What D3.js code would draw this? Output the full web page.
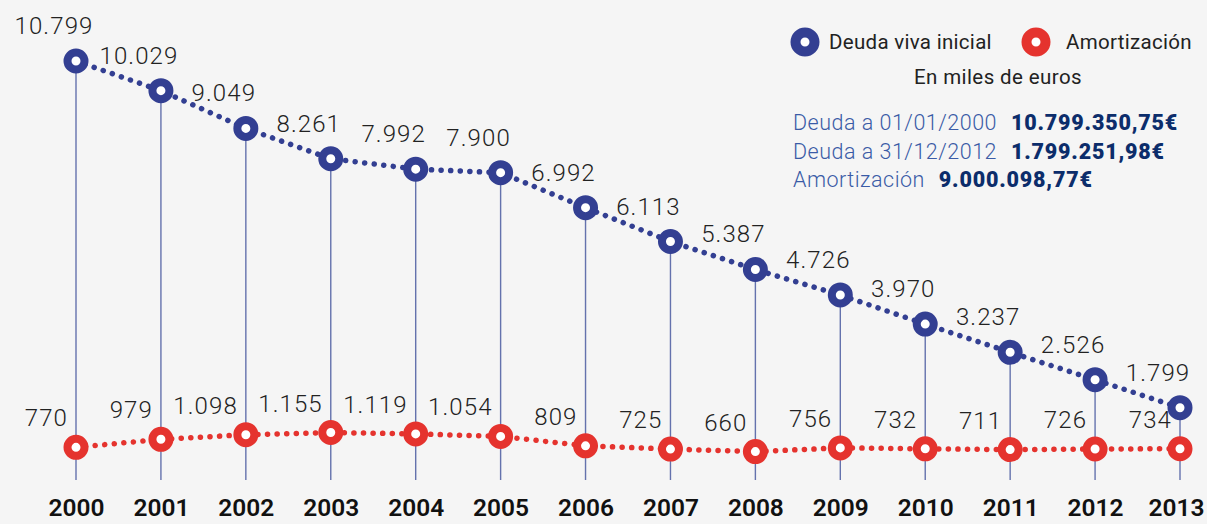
<!DOCTYPE html>
<html>
<head>
<meta charset="utf-8">
<script src="https://cdn.jsdelivr.net/npm/d3@7"></script>
<style>
  html, body { margin: 0; padding: 0; background: #f5f5f5; }
  svg { display: block; font-family: Roboto, "Noto Sans", sans-serif; }
</style>
</head>
<body>
<div id="chart"></div>
<script>
// data, in miles de euros
const years = [2000, 2001, 2002, 2003, 2004, 2005, 2006, 2007, 2008, 2009, 2010, 2011, 2012, 2013];
const deudaViva = [10799, 10029, 9049, 8261, 7992, 7900, 6992, 6113, 5387, 4726, 3970, 3237, 2526, 1799];
const amortizacion = [770, 979, 1098, 1155, 1119, 1054, 809, 725, 660, 756, 732, 711, 726, 734];
const seriesNames = ["Deuda viva inicial", "Amortización"];
const summaryLabels = ["Deuda a 01/01/2000", "Deuda a 31/12/2012", "Amortización"];
const summaryValues = ["10.799.350,75€", "1.799.251,98€", "9.000.098,77€"];

const blue = "#333f92";
const red = "#e5332e";

const width = 1207, height = 524;

const es = d3.formatLocale({decimal: ",", thousands: ".", grouping: [3], currency: ["", "€"]});
const fmt = es.format(",d");

const x = d3.scalePoint().domain(years).range([76, 1180]);
const y = d3.scaleLinear().domain([0, 10799]).range([477, 61]);
const stemBottom = 480;

const svg = d3.select("#chart").append("svg")
    .attr("width", width)
    .attr("height", height);

svg.append("rect").attr("width", width).attr("height", height).attr("fill", "#f5f5f5");

// year axis
svg.append("g")
    .attr("transform", `translate(0,${stemBottom})`)
    .call(d3.axisBottom(x).tickSize(0).tickPadding(19))
    .call(g => g.select(".domain").remove())
    .call(g => g.selectAll("text")
        .attr("fill", "#111")
        .style("font-family", "Roboto, sans-serif")
        .style("font-size", "24.5px")
        .style("font-weight", "600"))
    // keep the last year inside the frame
    .call(g => g.selectAll(".tick:last-of-type text")
        .attr("text-anchor", "end")
        .attr("x", width - 3 - x(years[years.length - 1])));

// stems
svg.append("g").selectAll("line")
    .data(years)
    .join("line")
    .attr("x1", d => x(d)).attr("x2", d => x(d))
    .attr("y1", (d, i) => y(deudaViva[i]))
    .attr("y2", stemBottom)
    .attr("stroke", "#4a5aa0")
    .attr("stroke-opacity", 0.85)
    .attr("stroke-width", 1.4);

const line = d3.line().x((d, i) => x(years[i])).y(d => y(d));

function drawSeries(values, color, labelFn) {
    svg.append("path")
        .datum(values)
        .attr("d", line)
        .attr("fill", "none")
        .attr("stroke", color)
        .attr("stroke-width", 5.5)
        .attr("stroke-linecap", "round")
        .attr("stroke-dasharray", "0.1 9.5");

    svg.append("g").selectAll("circle")
        .data(values)
        .join("circle")
        .attr("cx", (d, i) => x(years[i]))
        .attr("cy", d => y(d))
        .attr("r", 8.5)
        .attr("fill", "#fff")
        .attr("stroke", color)
        .attr("stroke-width", 8);

    svg.append("g").selectAll("text")
        .data(values)
        .join("text")
        .call(labelFn)
        .attr("fill", "#222")
        .style("font-size", "24px")
        .style("font-weight", "300")
        .style("letter-spacing", "1.1px")
        .text(d => fmt(d));
}

drawSeries(deudaViva, blue, t => t
    .attr("x", (d, i) => x(years[i]) - 22)
    .attr("y", d => y(d) - 27)
    .attr("text-anchor", "middle"));

drawSeries(amortizacion, red, t => t
    .attr("x", (d, i) => x(years[i]) - 8)
    .attr("y", d => y(d) - 21)
    .attr("text-anchor", "end"));

// legend
const legendItems = [
    {name: seriesNames[0], color: blue, cx: 805, tx: 829},
    {name: seriesNames[1], color: red, cx: 1036, tx: 1066}
];
const legend = svg.append("g");
legend.selectAll("circle")
    .data(legendItems)
    .join("circle")
    .attr("cx", d => d.cx)
    .attr("cy", 42)
    .attr("r", 9.5)
    .attr("fill", "#fff")
    .attr("stroke", d => d.color)
    .attr("stroke-width", 10);
legend.selectAll("text")
    .data(legendItems)
    .join("text")
    .attr("x", d => d.tx)
    .attr("y", 49)
    .attr("fill", "#222")
    .style("font-size", "20.5px")
    .style("letter-spacing", "0.3px")
    .text(d => d.name);

svg.append("text")
    .attr("x", 998)
    .attr("y", 84)
    .attr("text-anchor", "middle")
    .attr("fill", "#222")
    .style("font-size", "20.5px")
    .style("letter-spacing", "0.4px")
    .text("En miles de euros");

// summary block
const summary = svg.append("g");
summaryLabels.forEach((lab, i) => {
    const t = summary.append("text")
        .attr("x", 793)
        .attr("y", 130 + i * 28.5)
        .style("font-size", "21.5px");
    t.append("tspan")
        .attr("fill", "#3a5ba6")
        .style("font-weight", "300")
        .style("letter-spacing", "0.5px")
        .text(lab);
    t.append("tspan")
        .attr("dx", 14)
        .attr("fill", "#0c2d6b")
        .style("font-weight", "900")
        .style("letter-spacing", "0.8px")
        .text(summaryValues[i]);
});
</script>
</body>
</html>
